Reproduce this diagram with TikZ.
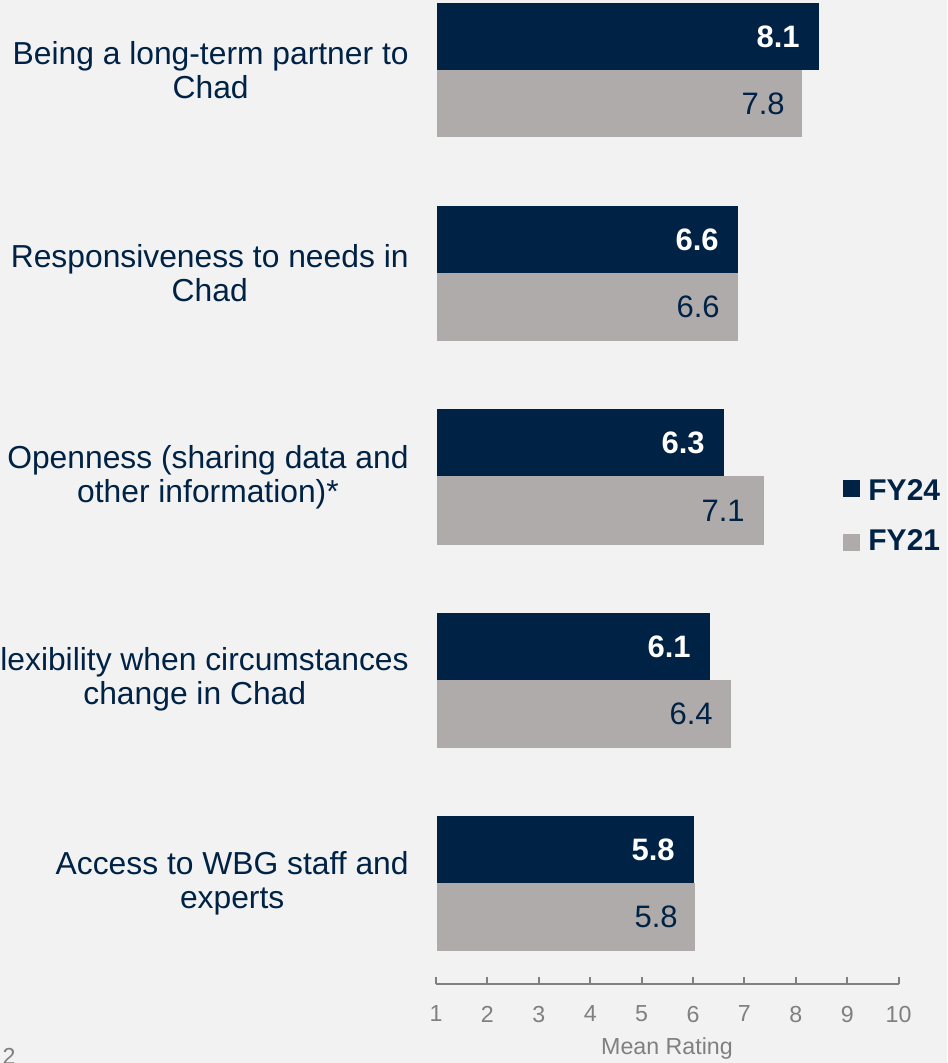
\documentclass[tikz,border=0pt]{standalone}
\usepackage{fontspec}
\setmainfont{Liberation Sans}
\usetikzlibrary{positioning}
\definecolor{navy}{RGB}{0,34,68}
\definecolor{barGrey}{RGB}{175,171,170}
\definecolor{axisGrey}{RGB}{128,128,128}
\definecolor{bgGrey}{RGB}{242,242,242}

\begin{document}
\begin{tikzpicture}[x=0.5pt,y=-0.5pt,
  fy24/.style={fill=navy},
  fy21/.style={fill=barGrey},
  val24/.style={anchor=east,inner sep=0pt,text=white,font=\fontsize{15.5}{18}\selectfont\bfseries},
  val21/.style={anchor=east,inner sep=0pt,text=navy,font=\fontsize{15.5}{18}\selectfont},
  item/.style={anchor=east,inner sep=0pt,align=center,text=navy,font=\fontsize{15.9}{17}\selectfont},
  ticklab/.style={inner sep=0pt,text=axisGrey,font=\fontsize{11.6}{13}\selectfont},
  legtext/.style={anchor=base west,inner sep=0pt,text=navy,font=\fontsize{15}{17}\selectfont\bfseries}]
\useasboundingbox (0,0) rectangle (947,1063);
\fill[bgGrey] (0,0) rectangle (947,1063);
\clip (0,0) rectangle (947,1063);
% categories
\node[item] (c1) at (409,70) {Being a long-term partner to\\Chad};
\node[item] (c2) at (409,273) {Responsiveness to needs in\\Chad};
\node[item] (c3) at (409,477) {Openness (sharing data and\\other information)*};
\node[item] (c4) at (409,679) {Flexibility when circumstances\\change in Chad};
\node[item] (c5) at (409,883) {Access to WBG staff and\\experts};
% bars
\fill[fy24] (437,3) rectangle (819,70);
\fill[fy21] (437,70) rectangle (802,137);
\fill[fy24] (437,206) rectangle (738,273);
\fill[fy21] (437,273) rectangle (738,341);
\fill[fy24] (437,409) rectangle (724,476);
\fill[fy21] (437,476) rectangle (764,545);
\fill[fy24] (437,613) rectangle (710,680);
\fill[fy21] (437,680) rectangle (731,748);
\fill[fy24] (437,816) rectangle (694,883);
\fill[fy21] (437,883) rectangle (695,951);
% values
\node[val24] (v1a) at (800,37) {8.1};
\node[val21] (v1b) at (785,104) {7.8};
\node[val24] (v2a) at (719,240) {6.6};
\node[val21] (v2b) at (720,307) {6.6};
\node[val24] (v3a) at (705,443) {6.3};
\node[val21] (v3b) at (745,511) {7.1};
\node[val24] (v4a) at (691,647) {6.1};
\node[val21] (v4b) at (713,714) {6.4};
\node[val24] (v5a) at (675,850) {5.8};
\node[val21] (v5b) at (678,917) {5.8};
% legend
\fill[fy24] (843,480) rectangle (860,497);
\node[legtext] (lg24) at (868,500) {FY24};
\fill[fy21] (843,534) rectangle (860,551);
\node[legtext] (lg21) at (868,550) {FY21};
% axis
\draw[axisGrey,line width=1pt] (436,984) -- (899,984);
\foreach \v in {1,...,10}{
  \draw[axisGrey,line width=1pt] ({436+51.4*(\v-1)},984) -- ++(0,-7);
  \node[ticklab] (t\v) at ({436+51.4*(\v-1)},1014) {\v};
}
\node[ticklab] (xlab) at (667,1048) {Mean Rating};
\node[ticklab,anchor=north] (pg) at (9,1048) {2};
\end{tikzpicture}
\end{document}
